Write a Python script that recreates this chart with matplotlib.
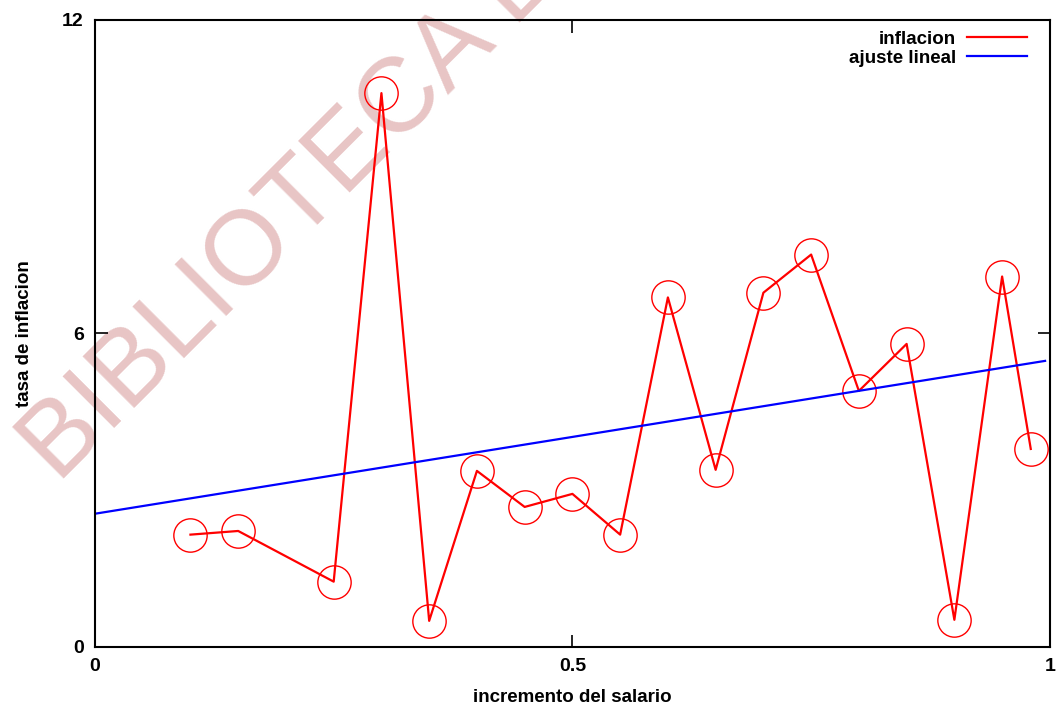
import matplotlib
matplotlib.use("Agg")
import matplotlib.pyplot as plt
import numpy as np

plt.rcParams['font.family'] = ['Liberation Sans', 'DejaVu Sans']

# salary increase vs inflation rate
salario = [0.10, 0.15, 0.25, 0.30, 0.35, 0.40, 0.45, 0.50, 0.55,
           0.60, 0.65, 0.70, 0.75, 0.80, 0.85, 0.90, 0.95, 0.98]
inflacion = [2.15, 2.22, 1.25, 10.6, 0.50, 3.37, 2.68, 2.93, 2.15,
             6.69, 3.39, 6.78, 7.51, 4.90, 5.80, 0.52, 7.09, 3.79]

# linear fit  y = a + b*x
fit_a = 2.55
fit_b = 2.94
fit_x = [0.0, 0.995]

xticks = [0, 0.5, 1]
xticklabels = ['0', '0.5', '1']
yticks = [0, 6, 12]
yticklabels = ['0', '6', '12']

fig = plt.figure(figsize=(10.61, 7.08), dpi=100)
ax = fig.add_axes([0.0895, 0.0862, 0.9, 0.8856])
ax.patch.set_alpha(0)

# watermark behind the plot
fig.text(0.0549, 0.316, 'BIBLIOTECA D', color='#e8c5c5', fontsize=76,
         rotation=45, rotation_mode='anchor', ha='left', va='baseline', zorder=-10)

ax.plot(salario, inflacion, color='#ff0000', lw=1.6, label='inflacion')
ax.plot(salario, inflacion, ls='none', marker='o', ms=24, mfc='none',
        mec='#ff0000', mew=1.0)

fx = np.array(fit_x)
ax.plot(fx, fit_a + fit_b * fx, color='#0000ff', lw=1.6, label='ajuste lineal')

ax.set_xlim(0, 1)
ax.set_ylim(0, 12)
ax.set_xticks(xticks)
ax.set_xticklabels(xticklabels)
ax.set_yticks(yticks)
ax.set_yticklabels(yticklabels)
ax.tick_params(direction='in', length=9, width=1.2, top=True, right=True,
               labelsize=14, pad=8)
for lab in ax.get_xticklabels() + ax.get_yticklabels():
    lab.set_fontweight('bold')
for sp in ax.spines.values():
    sp.set_linewidth(1.5)

ax.set_xlabel('incremento del salario', fontsize=13.5, fontweight='bold', labelpad=10)
ax.set_ylabel('tasa de inflacion', fontsize=13.5, fontweight='bold', labelpad=21)

leg = ax.legend(loc='upper right', bbox_to_anchor=(0.99, 1.004), frameon=False,
                markerfirst=False, prop={'weight': 'bold', 'size': 13.5},
                handlelength=3.2, labelspacing=0.1, borderaxespad=0.3,
                handletextpad=0.6)

fig.savefig('out.png', dpi=100)
